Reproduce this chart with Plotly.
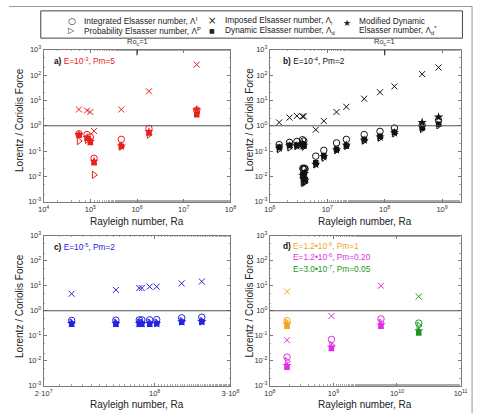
import plotly.graph_objects as go
import numpy as np

W, H = 483, 418

# ---------------- data ----------------
# Panel a: E=1e-3, Pm=5
A_RA = [5.7e4, 8.5e4, 1.0e5, 1.2e5, 4.6e5, 1.8e6, 1.9e7]
A_INTEG = [0.48, 0.45, 0.36, 0.052, 0.29, 0.78, 4.2]
A_PROB = [0.25, 0.28, 0.27, 0.0115, 0.15, 0.45, 3.3]
A_IMPOSED = [4.4, 4.0, 3.5, 0.62, 4.4, 23, 260]
A_DYN = [0.42, 0.32, 0.22, 0.035, 0.155, 0.52, 2.7]
A_MODDYN = [0.45, 0.34, 0.24, 0.04, 0.16, 0.58, 4.3]

# Panel b: E=1e-4, Pm=2
B_RA = [1.45e6, 2.2e6, 2.95e6, 3.7e6, 3.9e6, 3.75e6, 3.85e6, 4.0e6, 4.1e6,
        6.3e6, 8.7e6, 1.45e7, 2.15e7, 4.4e7, 8.3e7, 1.48e8, 4.5e8, 8.7e8]
B_INTEG = [0.18, 0.22, 0.24, 0.28, 0.25, 0.021, 0.019, 0.021, 0.02,
           0.063, 0.107, 0.21, 0.29, 0.45, 0.60, 0.81, 1.05, 1.65]
B_PROB = [0.12, 0.14, 0.16, 0.17, 0.15, 0.006, 0.0055, 0.0065, 0.006,
          0.03, 0.055, 0.11, 0.16, 0.26, 0.34, 0.50, 0.75, 1.05]
B_DYN = [0.145, 0.17, 0.17, 0.19, 0.16, 0.012, 0.009, 0.014, 0.0075,
         0.035, 0.065, 0.117, 0.16, 0.29, 0.38, 0.55, 0.81, 1.15]
B_MODDYN = [0.13, 0.16, 0.16, 0.20, 0.17, 0.011, 0.008, 0.013, 0.007,
            0.03, 0.06, 0.11, 0.17, 0.27, 0.36, 0.53, 1.35, 2.2]
B_RA_IMP = [1.45e6, 2.2e6, 2.95e6, 3.7e6, 3.9e6, 6.3e6, 8.7e6, 1.45e7,
            2.15e7, 4.4e7, 8.3e7, 1.48e8, 4.5e8, 8.7e8]
B_IMPOSED = [1.35, 2.1, 2.45, 2.35, 2.35, 0.70, 1.55, 3.5, 5.6, 11.7, 21, 36, 110, 200]

# Panel c: E=1e-5, Pm=2
C_RA = [3.0e7, 5.7e7, 8.0e7, 8.3e7, 9.3e7, 1.03e8, 1.48e8, 1.98e8]
C_INTEG = [0.41, 0.42, 0.43, 0.43, 0.43, 0.44, 0.52, 0.55]
C_PROB = [0.33, 0.33, 0.33, 0.33, 0.33, 0.33, 0.38, 0.38]
C_IMPOSED = [4.8, 6.8, 8.1, 8.1, 9.2, 9.2, 12.4, 14.8]
C_DYN = [0.29, 0.29, 0.29, 0.29, 0.29, 0.30, 0.35, 0.36]
C_MODDYN = [0.31, 0.31, 0.31, 0.31, 0.31, 0.31, 0.36, 0.37]

# Panel d: three parameter sets
D1_RA = [1.86e8]
D1_INTEG = [0.40]; D1_PROB = [0.33]; D1_IMPOSED = [5.9]; D1_DYN = [0.24]; D1_MODDYN = [0.29]
D2_RA = [1.86e8, 9.3e8, 5.6e9]
D2_INTEG = [0.014, 0.071, 0.47]; D2_PROB = [0.0095, 0.042, 0.33]
D2_IMPOSED = [0.066, 0.62, 10]; D2_DYN = [0.0055, 0.031, 0.24]; D2_MODDYN = [0.0065, 0.035, 0.27]
D3_RA = [2.2e10]
D3_INTEG = [0.32]; D3_PROB = [0.25]; D3_IMPOSED = [3.7]; D3_DYN = [0.13]; D3_MODDYN = [0.16]

RO_C_RA = {"a": 1e6, "b": 1e8}

# tick labels
Y_EXPS = [-3, -2, -1, 0, 1, 2, 3]
A_X_EXPS = [4, 5, 6, 7, 8]
B_X_EXPS = [6, 7, 8, 9]
D_X_EXPS = [8, 9, 10, 11]
C_TICKVALS = [2e7, 1e8, 3e8]
C_TICKTEXT = ["2·10<sup>7</sup>", "10<sup>8</sup>", "3·10<sup>8</sup>"]


def pow_ticks(exps):
    return dict(tickvals=[10.0 ** e for e in exps], ticktext=[f"10<sup>{e}</sup>" for e in exps])


# ---------------- style ----------------
FONT = "Liberation Sans, Arial, Helvetica, sans-serif"
RED = "#e8201c"
BLUE = "#2424e0"
ORANGE = "#f5a41a"
MAGENTA = "#e22ee2"
GREEN = "#1e961e"
BLACK = "#111111"
AXC = "#7a7a7a"


def px(x):
    return x / W


def py(y):
    return 1 - y / H


fig = go.Figure()


def add_series(ra, integ, prob, imposed, dyn, moddyn, color, xa, ya, ra_imp=None):
    common = dict(mode="markers", xaxis=xa, yaxis=ya, showlegend=False, hoverinfo="skip")
    fig.add_trace(go.Scatter(x=ra, y=integ, marker=dict(symbol="circle-open", size=6.5, color=color,
                                                       line=dict(width=1, color=color)), **common))
    fig.add_trace(go.Scatter(x=ra, y=prob, marker=dict(symbol="triangle-right-open", size=6.5, color=color,
                                                      line=dict(width=1, color=color)), **common))
    fig.add_trace(go.Scatter(x=ra, y=moddyn, marker=dict(symbol="star", size=7, color=color,
                                                        line=dict(width=0)), **common))
    fig.add_trace(go.Scatter(x=ra, y=dyn, marker=dict(symbol="square", size=5.5, color=color,
                                                     line=dict(width=0)), **common))
    fig.add_trace(go.Scatter(x=ra_imp if ra_imp is not None else ra, y=imposed,
                             marker=dict(symbol="x-thin-open", size=6, color=color,
                                         line=dict(width=1, color=color)), **common))


add_series(A_RA, A_INTEG, A_PROB, A_IMPOSED, A_DYN, A_MODDYN, RED, "x", "y")
add_series(B_RA, B_INTEG, B_PROB, B_IMPOSED, B_DYN, B_MODDYN, BLACK, "x2", "y2", ra_imp=B_RA_IMP)
add_series(C_RA, C_INTEG, C_PROB, C_IMPOSED, C_DYN, C_MODDYN, BLUE, "x3", "y3")
add_series(D1_RA, D1_INTEG, D1_PROB, D1_IMPOSED, D1_DYN, D1_MODDYN, ORANGE, "x4", "y4")
add_series(D2_RA, D2_INTEG, D2_PROB, D2_IMPOSED, D2_DYN, D2_MODDYN, MAGENTA, "x4", "y4")
add_series(D3_RA, D3_INTEG, D3_PROB, D3_IMPOSED, D3_DYN, D3_MODDYN, GREEN, "x4", "y4")

axis_common = dict(showline=True, linecolor=AXC, linewidth=1, mirror="ticks", ticks="inside",
                   ticklen=3, tickcolor=AXC, tickfont=dict(size=7.5, color="#333", family=FONT),
                   showgrid=False, zeroline=False, type="log",
                   minor=dict(ticks="inside", ticklen=1.5, tickcolor="#aaaaaa", showgrid=False))

XA = [px(36), px(230)]
XB = [px(271), px(469)]
YT = [py(201), py(45)]
YB = [py(390), py(236)]

fig.update_layout(
    xaxis=dict(domain=XA, anchor="y", range=[4, 8], **pow_ticks(A_X_EXPS), **axis_common),
    yaxis=dict(domain=YT, anchor="x", range=[-3, 3], **pow_ticks(Y_EXPS), **axis_common),
    xaxis2=dict(domain=XB, anchor="y2", range=[6, np.log10(2.1e9)], **pow_ticks(B_X_EXPS), **axis_common),
    yaxis2=dict(domain=YT, anchor="x2", range=[-3, 3], **pow_ticks(Y_EXPS), **axis_common),
    xaxis3=dict(domain=XA, anchor="y3", range=[np.log10(2e7), np.log10(3e8)],
                tickvals=C_TICKVALS, ticktext=C_TICKTEXT, **axis_common),
    yaxis3=dict(domain=YB, anchor="x3", range=[-3, 3], **pow_ticks(Y_EXPS), **axis_common),
    xaxis4=dict(domain=XB, anchor="y4", range=[8, 11], **pow_ticks(D_X_EXPS), **axis_common),
    yaxis4=dict(domain=YB, anchor="x4", range=[-3, 3], **pow_ticks(Y_EXPS), **axis_common),
)

shapes = []
annotations = []
# y = 1 reference lines
for xr, yr in [("x", "y"), ("x2", "y2"), ("x3", "y3"), ("x4", "y4")]:
    shapes.append(dict(type="line", xref=f"{xr} domain", yref=yr, x0=0, x1=1, y0=1, y1=1,
                       line=dict(color="#555555", width=1)))

# Ro_c = 1 markers
for key, xr, yr in [("a", "x", "y"), ("b", "x2", "y2")]:
    ra = RO_C_RA[key]
    shapes.append(dict(type="line", xref=xr, yref=f"{yr} domain", x0=ra, x1=ra, y0=1, y1=0.965,
                       line=dict(color="#333333", width=1.2)))
    annotations.append(dict(xref=xr, yref=f"{yr} domain", x=np.log10(ra), y=1, yshift=1,
                            text="Ro<sub>c</sub>=1", showarrow=False, yanchor="bottom",
                            font=dict(size=7.5, color="#333", family=FONT)))

# Legend box
shapes.append(dict(type="rect", xref="paper", yref="paper", x0=px(33), x1=px(471), y0=py(33), y1=py(5),
                   line=dict(color="#444444", width=1)))
# outer frame lines (top and right)
shapes.append(dict(type="line", xref="paper", yref="paper", x0=0, x1=px(481), y0=py(0.5), y1=py(0.5),
                   line=dict(color="#999999", width=1)))
shapes.append(dict(type="line", xref="paper", yref="paper", x0=px(481), x1=px(481), y0=0, y1=py(0.5),
                   line=dict(color="#999999", width=1)))

LF = dict(size=8.3, color="#222", family=FONT)


def sym(x, y, s, size=9):
    annotations.append(dict(xref="paper", yref="paper", x=px(x), y=py(y), text=s, showarrow=False,
                            xanchor="center", yanchor="middle",
                            font=dict(size=size, color="#222", family="DejaVu Sans")))


def txt(x, y, s, font=LF, xanchor="left"):
    annotations.append(dict(xref="paper", yref="paper", x=px(x), y=py(y), text=s, showarrow=False,
                            xanchor=xanchor, yanchor="middle", align="left", font=font))


sym(65.5, 15, "○", 9)
txt(76, 15, "Integrated Elsasser number, Λ<sup>I</sup>")
sym(65, 25.5, "▷", 8)
txt(76, 25.5, "Probability Elsasser number, Λ<sup>P</sup>")
sym(210.5, 15, "×", 10)
txt(222, 15, "Imposed Elsasser number, Λ<sub>i</sub>")
sym(210.5, 25.5, "■", 6)
txt(222, 25.5, "Dynamic Elsasser number, Λ<sub>d</sub>")
sym(351, 17, "★", 9)
txt(361.5, 15, "Modified Dynamic")
txt(361.5, 25.5, "Elsasser number, Λ<sub>d</sub><sup>*</sup>")

# Panel labels
PF = dict(size=8.3, color="#111", family=FONT)
txt(45, 56, f"<b>a)</b> <span style='color:{RED}'>E=10<sup>-3</sup>, Pm=5</span>", PF)
txt(283, 56, "<b>b)</b> E=10<sup>-4</sup>, Pm=2", PF)
txt(45, 247, f"<b>c)</b> <span style='color:{BLUE}'>E=10<sup>-5</sup>, Pm=2</span>", PF)
txt(283, 246, "<b>d)</b>", PF)
txt(293, 246, f"<span style='color:{ORANGE}'>E=1.2•10<sup>-6</sup>, Pm=1</span>", PF)
txt(293, 258, f"<span style='color:{MAGENTA}'>E=1.2•10<sup>-6</sup>, Pm=0.20</span>", PF)
txt(293, 270, f"<span style='color:{GREEN}'>E=3.0•10<sup>-7</sup>, Pm=0.05</span>", PF)

# Axis titles
TF = dict(size=10, color="#222", family=FONT)
for xc in [133, 370]:
    for yc in [221, 409]:
        annotations.append(dict(xref="paper", yref="paper", x=px(xc), y=py(yc), text="Rayleigh number, Ra",
                                showarrow=False, xanchor="center", yanchor="middle", font=TF))
for xc in [11.5, 250]:
    for yc in [117, 308]:
        annotations.append(dict(xref="paper", yref="paper", x=px(xc), y=py(yc), text="Lorentz / Coriolis Force",
                                showarrow=False, xanchor="center", yanchor="middle", textangle=-90, font=TF))

fig.update_layout(shapes=shapes, annotations=annotations, width=W, height=H,
                  margin=dict(l=0, r=0, t=0, b=0), paper_bgcolor="white", plot_bgcolor="white",
                  showlegend=False, font=dict(family=FONT))

fig.write_html("out.html")
